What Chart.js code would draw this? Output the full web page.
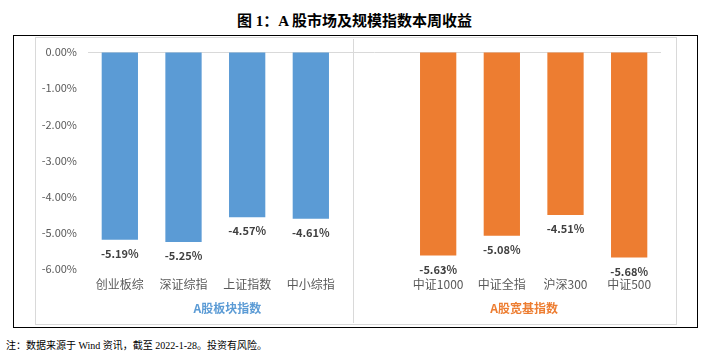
<!DOCTYPE html>
<html>
<head>
<meta charset="utf-8">
<script src="https://cdn.jsdelivr.net/npm/chart.js@4"></script>
<style>
  body { margin: 0; width: 709px; height: 352px; background: #fff; position: relative; overflow: hidden; }
  #title { position: absolute; left: 0; top: 9px; width: 709px; text-align: center; font: bold 15px 'Liberation Serif', 'Noto Sans CJK SC', serif; color: #000; }
  #outer { position: absolute; left: 13px; top: 35px; width: 683px; height: 291px; border: 1px solid #000; }
  #inner { position: absolute; left: 35px; top: 37px; width: 640px; height: 286px; border: 1px solid #d9d9d9; }
  #wrap { position: absolute; left: 35px; top: 38px; width: 641px; height: 286px; }
  #returns-chart { display: block; }
  #note { position: absolute; left: 6px; top: 337px; font: 10px 'Liberation Serif', 'Noto Sans CJK SC', serif; color: #000; }
</style>
</head>
<body>
<div id="title">图 1：A 股市场及规模指数本周收益</div>
<div id="outer"></div>
<div id="inner"></div>
<div id="wrap"><canvas id="returns-chart" width="641" height="286"></canvas></div>
<div id="note">注：数据来源于 Wind 资讯，截至 2022-1-28。投资有风险。</div>
<script>
'use strict';

// *************** DATA
let boardNames = ['创业板综', '深证综指', '上证指数', '中小综指'];
let boardReturns = [-5.19, -5.25, -4.57, -4.61];
let broadNames = ['中证1000', '中证全指', '沪深300', '中证500'];
let broadReturns = [-5.63, -5.08, -4.51, -5.68];
let groupNames = ['A股板块指数', 'A股宽基指数'];
let yTicks = [0, -1, -2, -3, -4, -5, -6];

let blue = '#5B9BD5';
let orange = '#ED7D31';

// one empty slot sits between the two groups
let labels = boardNames.concat(['']).concat(broadNames);
let boardData = boardReturns.concat([null, null, null, null, null]);
let broadData = [null, null, null, null, null].concat(broadReturns);

// *************** PLUGIN: value labels, divider, group names
let extras = {
  id: 'extras',
  afterDatasetsDraw(chart) {
    let c = chart.ctx;
    let x = chart.scales.x;
    c.save();
    c.font = 'bold 11px "Noto Sans CJK SC", sans-serif';
    c.fillStyle = '#404040';
    c.textAlign = 'center';
    c.textBaseline = 'middle';
    chart.data.datasets.forEach((ds, i) => {
      chart.getDatasetMeta(i).data.forEach((bar, j) => {
        if (ds.data[j] === null) return;
        c.fillText(ds.data[j].toFixed(2) + '%', bar.x, bar.y + 14);
      });
    });

    // divider between groups
    let step = x.getPixelForValue(1) - x.getPixelForValue(0);
    let dx = Math.round(x.getPixelForValue(3) + step * 0.67) + 0.5;
    c.strokeStyle = '#d9d9d9';
    c.lineWidth = 1;
    c.beginPath();
    c.moveTo(dx, 1);
    c.lineTo(dx, chart.height - 1);
    c.stroke();

    // group names
    c.font = 'bold 12px "Noto Sans CJK SC", sans-serif';
    c.fillStyle = blue;
    c.fillText(groupNames[0], x.getPixelForValue(1) + step * 0.69, chart.chartArea.bottom + 39);
    c.fillStyle = orange;
    c.fillText(groupNames[1], x.getPixelForValue(6) + step * 0.35, chart.chartArea.bottom + 39);
    c.restore();
  }
};

// *************** CHART
let ctx = document.getElementById('returns-chart');

new Chart(ctx, {
  type: 'bar',
  data: {
    labels: labels,
    datasets: [{
      label: groupNames[0],
      data: boardData,
      backgroundColor: blue,
      barPercentage: 0.57,
      categoryPercentage: 1
    },
    {
      label: groupNames[1],
      data: broadData,
      backgroundColor: orange,
      barPercentage: 0.57,
      categoryPercentage: 1
    }]
  },
  options: {
    responsive: false,
    animation: false,
    devicePixelRatio: 1,
    layout: { padding: { top: 14, right: 15, left: 0, bottom: 0 } },
    plugins: { legend: { display: false }, tooltip: { enabled: false } },
    datasets: { bar: { grouped: false } },
    scales: {
      x: {
        grid: { display: false, drawTicks: false },
        border: { display: false },
        ticks: {
          color: '#595959',
          font: { size: 12, family: '"Noto Sans CJK SC", sans-serif' },
          padding: 8,
          maxRotation: 0,
          autoSkip: false
        },
        afterFit(scale) { scale.height = 55; }
      },
      y: {
        min: -6,
        max: 0,
        afterBuildTicks(scale) { scale.ticks = yTicks.map(v => ({ value: v })); },
        grid: {
          drawTicks: false,
          color: (c) => (c.tick && c.tick.value === 0 ? '#d9d9d9' : 'rgba(0,0,0,0)'),
          lineWidth: 1
        },
        border: { display: false },
        ticks: {
          color: '#595959',
          font: { size: 11, family: '"Noto Sans CJK SC", sans-serif' },
          padding: 11,
          autoSkip: false,
          callback: (v) => v.toFixed(2) + '%'
        },
        afterFit(scale) {
          scale.width = 53;
          scale.paddingTop = 0;
          scale.paddingBottom = 0;
        }
      }
    }
  },
  plugins: [extras]
});
</script>
</body>
</html>
